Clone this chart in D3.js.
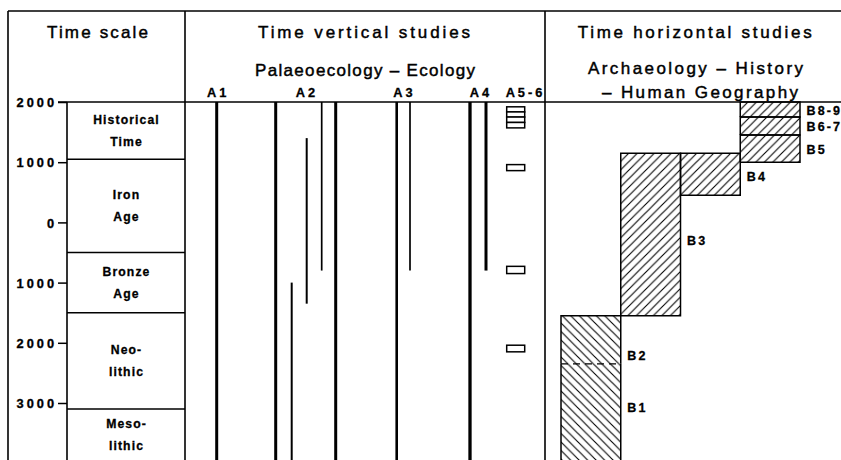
<!DOCTYPE html>
<html><head><meta charset="utf-8">
<script src="https://cdn.jsdelivr.net/npm/d3@7"></script>
<style>html,body{margin:0;padding:0;background:#fff;} svg{display:block;overflow:hidden;}</style>
</head><body><div id="chart"></div>
<script>
// ---------------- DATA ----------------
// years: AD positive, BC negative
const tickYears = [2000, 1000, 0, -1000, -2000, -3000];

const periodNames = [["Historical", "Time"], ["Iron", "Age"], ["Bronze", "Age"], ["Neo-", "lithic"], ["Meso-", "lithic"]];
const periodStart = [2000, 1050, -500, -1500, -3100];
const periodEnd = [1050, -500, -1500, -3100, -4000];

// time-vertical records (lines)
const verticalIds = ["A1", "A2a", "A2b", "A2c", "A2d", "A2e", "A3a", "A3b", "A4a", "A4b"];
const verticalFrom = [2000, 2000, -1000, 1400, 2000, 2000, 2000, 2000, 2000, 2000];
const verticalTo = [-4000, -4000, -4000, -1350, -800, -4000, -4000, -800, -4000, -800];

// A5-6 short records (boxes)
const a56From = [1920, 1835, 1750, 1660, 960, -730, -2040];
const a56To = [1835, 1750, 1660, 1570, 860, -850, -2150];

const verticalLabels = ["A1", "A2", "A3", "A4", "A5-6"];

// time-horizontal studies
const horizLabels = ["B1", "B2", "B3", "B4", "B5", "B6-7", "B8-9"];
const horizColumn = [0, 0, 1, 2, 3, 3, 3];
const horizFrom = [-4000, -2350, -1550, 450, 1000, 1450, 1750];
const horizTo = [-2350, -1550, 1150, 1150, 1450, 1750, 2000];
const horizDashedSplit = -2350; // boundary B1/B2 drawn dashed

const headerTexts = ["Time scale", "Time vertical studies", "Palaeoecology \u2013 Ecology",
  "Time horizontal studies", "Archaeology \u2013 History", "\u2013 Human Geography"];

// ---------------- LAYOUT ----------------
const W = 841, H = 460;
const frameLeft = 8, frameTop = 11, div1 = 185, div2 = 545;
const boxLeft = 67;
const lineX = [216.7, 275.7, 291.7, 306.7, 321.7, 335.7, 396.7, 410, 470, 486];
const lineW = [3, 3, 2, 2, 1.7, 3, 2.6, 1.7, 3.3, 3];
const labelX = [216.7, 305.5, 403, 479.5, 524];
const boxX = 506.7, boxW = 18;
const horizLabelDy = [-4.5, 16, 6, 2, 1, 1, 1.3];
const headerX = [97.5, 364, 365, 694.7, 695.5, 700];
const headerY = [38, 38, 76, 38, 74, 98];
const headerLen = [101, 212, 220, 234, 215, 196];
const FONT = "'Liberation Sans', Arial, Helvetica, sans-serif";

const svg = d3.select("#chart").append("svg").attr("width", W).attr("height", H);
const y = d3.scaleLinear().domain([2000, -3000]).range([102, 403]);
const xB = d3.scaleBand().domain([0, 1, 2, 3]).range([561, 800]).paddingInner(0);

// patterns
const defs = svg.append("defs");
defs.append("pattern").attr("id", "hatchF").attr("patternUnits", "userSpaceOnUse")
  .attr("width", 8.5).attr("height", 8.5)
  .append("path").attr("d", "M-2,2 L2,-2 M0,8.5 L8.5,0 M6.5,10.5 L10.5,6.5")
  .attr("stroke", "#000").attr("stroke-width", 1.1);
defs.append("pattern").attr("id", "hatchB").attr("patternUnits", "userSpaceOnUse")
  .attr("width", 8.5).attr("height", 8.5)
  .append("path").attr("d", "M-2,6.5 L2,10.5 M0,0 L8.5,8.5 M6.5,-2 L10.5,2")
  .attr("stroke", "#000").attr("stroke-width", 1.1);

const frame = svg.append("g").attr("stroke", "#000").attr("stroke-width", 1.6);
const hl = (x1, x2, yy) => frame.append("line").attr("x1", x1).attr("x2", x2).attr("y1", yy).attr("y2", yy);
const vl = (xx, y1, y2) => frame.append("line").attr("x1", xx).attr("x2", xx).attr("y1", y1).attr("y2", y2);
hl(frameLeft, W, frameTop);
vl(frameLeft, frameTop, H);
vl(div1, frameTop, H);
vl(div2, frameTop, H);
hl(boxLeft - 9, W, y(2000));
vl(boxLeft, y(2000), H);

// periods
const per = svg.append("g");
periodStart.forEach((s, i) => {
  if (i > 0) per.append("line").attr("x1", boxLeft).attr("x2", div1)
    .attr("y1", y(s)).attr("y2", y(s)).attr("stroke", "#000").attr("stroke-width", 1.4);
  const mid = (y(s) + Math.min(y(periodEnd[i]), H)) / 2;
  const t = per.append("text").attr("text-anchor", "middle").attr("font-family", FONT)
    .attr("font-weight", "bold").attr("font-size", 12.2).attr("letter-spacing", 1.1)
    .attr("stroke", "#000").attr("stroke-width", 0.3);
  t.append("tspan").attr("x", 126.5).attr("y", mid - 7).text(periodNames[i][0]);
  t.append("tspan").attr("x", 126.5).attr("y", mid + 15).text(periodNames[i][1]);
});

// axis
const axis = d3.axisLeft(y).tickValues(tickYears).tickFormat(d => String(Math.abs(d)))
  .tickSize(9).tickPadding(1);
const ag = svg.append("g").attr("transform", `translate(${boxLeft},0)`).call(axis);
ag.select(".domain").remove();
ag.selectAll(".tick line").attr("stroke", "#000").attr("stroke-width", 1.5);
ag.selectAll(".tick text").attr("fill", "#000").attr("font-family", FONT)
  .attr("font-weight", "bold").attr("font-size", 12.8).attr("letter-spacing", 3)
  .attr("stroke", "#000").attr("stroke-width", 0.35)
  .attr("dy", "0.36em");

// headers
headerTexts.forEach((t, i) => {
  svg.append("text").attr("x", headerX[i]).attr("y", headerY[i]).attr("text-anchor", "middle")
    .attr("font-family", FONT).attr("font-size", 17).attr("textLength", headerLen[i])
    .attr("stroke", "#000").attr("stroke-width", 0.45)
    .attr("lengthAdjust", "spacing").text(t);
});

// vertical labels
verticalLabels.forEach((t, i) => {
  svg.append("text").attr("x", labelX[i] + 1.5).attr("y", 97).attr("text-anchor", "middle")
    .attr("font-family", FONT).attr("font-weight", "bold").attr("font-size", 12.8)
    .attr("stroke", "#000").attr("stroke-width", 0.3)
    .attr("letter-spacing", 3).text(t);
});

// vertical lines
svg.append("g").selectAll("line").data(verticalIds).join("line")
  .attr("x1", (d, i) => lineX[i]).attr("x2", (d, i) => lineX[i])
  .attr("y1", (d, i) => y(verticalFrom[i])).attr("y2", (d, i) => y(verticalTo[i]))
  .attr("stroke", "#000").attr("stroke-width", (d, i) => lineW[i]);

// A5-6 boxes
svg.append("g").selectAll("rect").data(a56From).join("rect")
  .attr("x", boxX).attr("width", boxW)
  .attr("y", (d) => y(d)).attr("height", (d, i) => y(a56To[i]) - y(d))
  .attr("fill", "#fff").attr("stroke", "#000").attr("stroke-width", 1.5);

// horizontal studies
const hg = svg.append("g");
horizLabels.forEach((lab, i) => {
  const x0 = xB(horizColumn[i]), w = xB.bandwidth();
  const yt = y(horizTo[i]), yb = y(horizFrom[i]);
  hg.append("rect").attr("x", x0).attr("y", yt).attr("width", w).attr("height", yb - yt)
    .attr("fill", horizColumn[i] === 0 ? "url(#hatchB)" : "url(#hatchF)");
});
horizLabels.forEach((lab, i) => {
  const x0 = xB(horizColumn[i]), w = xB.bandwidth();
  const yt = y(horizTo[i]), yb = y(horizFrom[i]);
  const topDash = horizTo[i] === horizDashedSplit;
  const botDash = horizFrom[i] === horizDashedSplit;
  let d = `M${x0},${yb}L${x0},${yt}`;
  d += topDash ? `M${x0 + w},${yt}` : `L${x0 + w},${yt}`;
  d += `L${x0 + w},${yb}`;
  if (!botDash) d += `L${x0},${yb}`;
  hg.append("path").attr("d", d).attr("fill", "none").attr("stroke", "#000").attr("stroke-width", 1.5);
  const visB = Math.min(yb, H);
  hg.append("text").attr("x", x0 + w + 6.5).attr("y", (yt + visB) / 2 + horizLabelDy[i] + 4.4)
    .attr("font-family", FONT).attr("font-weight", "bold").attr("font-size", 12.5)
    .attr("stroke", "#000").attr("stroke-width", 0.3)
    .attr("letter-spacing", 2.1).text(lab);
});
hg.append("line").attr("x1", xB(0)).attr("x2", xB(0) + xB.bandwidth())
  .attr("y1", y(horizDashedSplit)).attr("y2", y(horizDashedSplit))
  .attr("stroke", "#000").attr("stroke-width", 1.2).attr("stroke-dasharray", "7,5");
</script>
</body></html>
